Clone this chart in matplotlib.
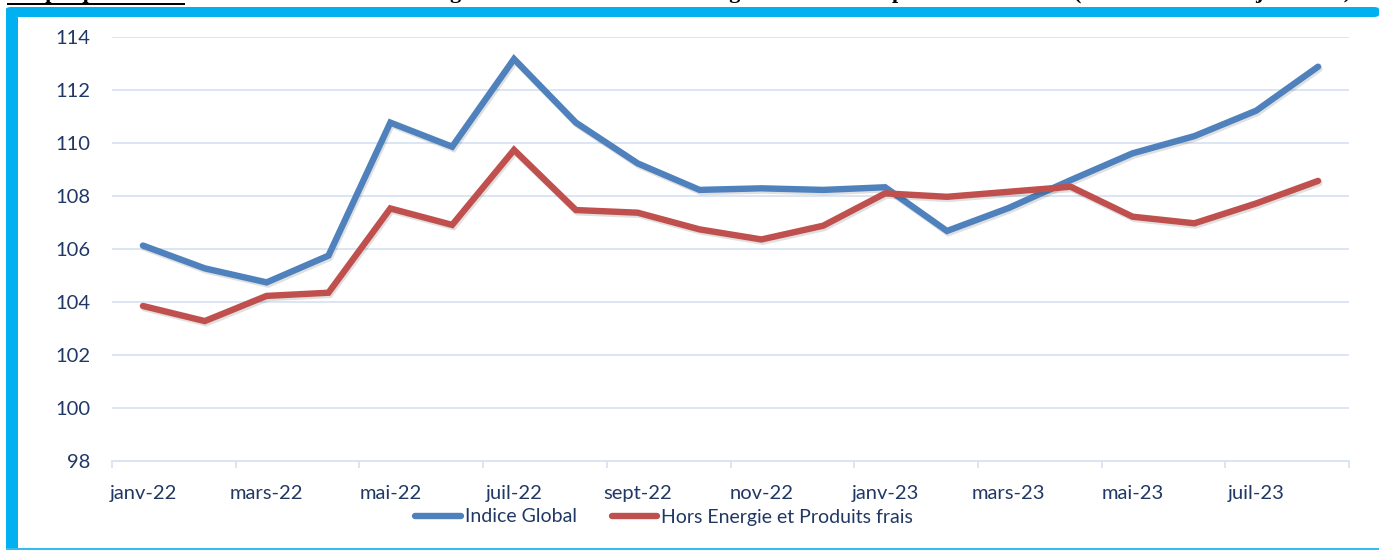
import matplotlib
matplotlib.use("Agg")
import matplotlib.pyplot as plt
import matplotlib.patheffects as pe
from matplotlib.patches import Rectangle, FancyBboxPatch
from matplotlib.lines import Line2D

months = ["janv-22", "févr-22", "mars-22", "avr-22", "mai-22", "juin-22", "juil-22",
          "août-22", "sept-22", "oct-22", "nov-22", "déc-22", "janv-23", "févr-23",
          "mars-23", "avr-23", "mai-23", "juin-23", "juil-23", "août-23"]
indice_global = [106.13, 105.27, 104.74, 105.75, 110.77, 109.86, 113.17, 110.77, 109.23,
                 108.23, 108.29, 108.23, 108.33, 106.68, 107.55, 108.6, 109.61, 110.26,
                 111.22, 112.88]
hors_energie = [103.85, 103.28, 104.23, 104.35, 107.53, 106.91, 109.74, 107.47, 107.37,
                106.74, 106.36, 106.88, 108.1, 107.97, 108.16, 108.35, 107.22, 106.97,
                107.72, 108.57]
series_names = ["Indice Global", "Hors Energie et Produits frais"]
yticks = [98, 100, 102, 104, 106, 108, 110, 112, 114]

W, H = 1379, 551
fig = plt.figure(figsize=(W / 100, H / 100), dpi=100)
fig.patch.set_facecolor("white")

def fx(px):
    return px / W

def fy(py):
    return 1 - py / H

ax = fig.add_axes([fx(112), fy(461), fx(1349) - fx(112), fy(37) - fy(461)])
ax.set_facecolor("none")

blue = "#4F81BD"
red = "#C0504D"
grid_c = "#D9E3F3"
txt_c = "#203864"

x = list(range(len(months)))
shadow = [pe.SimpleLineShadow(offset=(1.0, -1.6), alpha=0.12, shadow_color="black"), pe.Normal()]
ax.plot(x, indice_global, color=blue, lw=4.6, solid_capstyle="round",
        solid_joinstyle="miter", path_effects=shadow, label=series_names[0], zorder=3)
ax.plot(x, hors_energie, color=red, lw=4.6, solid_capstyle="round",
        solid_joinstyle="miter", path_effects=shadow, label=series_names[1], zorder=3)

ax.set_xlim(-0.5, len(months) - 0.5)
ax.set_ylim(98, 114)
ax.set_yticks(yticks)
ax.set_yticklabels([str(v) for v in yticks])
ax.grid(axis="y", color=grid_c, lw=1.3)
ax.set_axisbelow(True)
for s in ["top", "right", "left"]:
    ax.spines[s].set_visible(False)
ax.spines["bottom"].set_color(grid_c)
ax.spines["bottom"].set_linewidth(1.3)

ax.tick_params(axis="y", length=0, pad=15.5, labelsize=14.5, labelcolor=txt_c)
# major ticks at category boundaries every 2 months, labels at categories
ax.set_xticks([i - 0.5 for i in range(0, len(months) + 1, 2)])
ax.set_xticklabels([])
ax.set_xticks(list(range(0, len(months), 2)), minor=True)
ax.set_xticklabels([months[i] for i in range(0, len(months), 2)], minor=True)
ax.tick_params(axis="x", which="major", length=5, width=1.3, color=grid_c, direction="out")
ax.tick_params(axis="x", which="minor", length=0, pad=17, labelsize=14.5, labelcolor=txt_c)

for lab in ax.get_xticklabels(minor=True) + ax.get_yticklabels():
    lab.set_fontfamily("Lato")

leg_handles = [Line2D([0], [0], color=blue, lw=4.6, solid_capstyle="round"),
               Line2D([0], [0], color=red, lw=4.6, solid_capstyle="round")]
leg = fig.legend(leg_handles, series_names, loc="center", bbox_to_anchor=(fx(664), fy(517)),
                 ncol=2, frameon=False, handlelength=2.35, handletextpad=0.2,
                 columnspacing=1.8, prop={"family": "Lato", "size": 14})
for t in leg.get_texts():
    t.set_color(txt_c)

# cyan frame
cyan = "#00B0F0"
fig.add_artist(Rectangle((fx(6), fy(548)), fx(18) - fx(6), fy(9) - fy(548),
                         transform=fig.transFigure, color=cyan, lw=0))
fig.add_artist(FancyBboxPatch((fx(6), fy(17)), fx(1379) - fx(6), fy(7) - fy(17),
                              boxstyle="round,pad=0,rounding_size=0.004",
                              transform=fig.transFigure, color=cyan, lw=0))
fig.add_artist(Rectangle((fx(6), fy(550)), fx(1379) - fx(6), fy(548) - fy(550),
                         transform=fig.transFigure, color="#33BDEF", lw=0))

# cropped title (only descenders visible)
tprops = dict(family="Liberation Serif", weight="bold", size=16, color="black",
              va="baseline", transform=fig.transFigure)
fig.text(fx(7), fy(-2), "Graphique 5 :", ha="left", **tprops)
fig.add_artist(Rectangle((fx(7), fy(5)), fx(185) - fx(7), fy(3) - fy(5),
                         transform=fig.transFigure, color="black", lw=0))
fig.text(fx(448), fy(-2), "Evolution de l'indice ", ha="right", **tprops)
fig.text(fx(450), fy(-2), "global et de l'indice hors énergie et ", ha="left", **tprops)
fig.text(fx(892), fy(-2), "produits frais ", ha="left", **tprops)
fig.text(fx(1074), fy(-2), "(base 100 = ", ha="left", **tprops)
fig.text(fx(1255), fy(-2), "juin 2021)", ha="left", **tprops)

fig.savefig("out.png", dpi=100, facecolor="white")
